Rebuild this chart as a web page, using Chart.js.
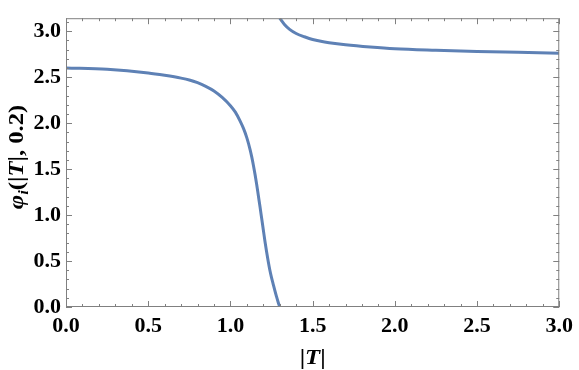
<!DOCTYPE html>
<html>
<head>
<meta charset="utf-8">
<script src="https://cdn.jsdelivr.net/npm/chart.js@4.4.0/dist/chart.umd.min.js"></script>
<style>
html, body { margin: 0; padding: 0; background: #fff; }
#wrap { width: 579px; height: 370px; }
</style>
</head>
<body>
<div id="wrap"><canvas id="phase-chart"></canvas></div>
<script>
// Branch before the phase jump
var lowT   = [0, 0.25, 0.5, 0.6, 0.7, 0.75, 0.8, 0.85, 0.9, 0.95, 1.0, 1.03, 1.06, 1.08, 1.1, 1.12, 1.13, 1.14, 1.15, 1.16, 1.17, 1.18, 1.19, 1.2, 1.21, 1.22, 1.23, 1.24, 1.25, 1.26, 1.27, 1.28, 1.29, 1.30];
var lowPhi = [2.60, 2.585, 2.545, 2.52, 2.49, 2.47, 2.44, 2.40, 2.35, 2.28, 2.19, 2.12, 2.02, 1.94, 1.84, 1.71, 1.63, 1.54, 1.44, 1.33, 1.21, 1.09, 0.965, 0.84, 0.715, 0.60, 0.495, 0.40, 0.32, 0.25, 0.18, 0.115, 0.055, 0.0];

// Branch after the jump (wrapped, starts at pi)
var highT   = [1.30, 1.33, 1.36, 1.40, 1.45, 1.5, 1.55, 1.6, 1.7, 1.85, 2.0, 2.25, 2.5, 2.75, 3.0];
var highPhi = [3.1416, 3.07, 3.02, 2.975, 2.94, 2.91, 2.89, 2.875, 2.852, 2.827, 2.808, 2.792, 2.78, 2.77, 2.76];

// Tick labels
var xTicks = [0, 0.5, 1.0, 1.5, 2.0, 2.5, 3.0];
var yTicks = [0, 0.5, 1.0, 1.5, 2.0, 2.5, 3.0];

var lineColor = '#5E81B5';
var frameColor = '#808080';
var serif = '"Liberation Serif", "Times New Roman", serif';

function toPoints(xs, ys) {
    return xs.map(function (x, i) { return { x: x, y: ys[i] }; });
}

// Mathematica style frame with inside ticks on all four sides
var framePlugin = {
    id: 'frame',
    afterDatasetsDraw: function (chart) {
        var ctx = chart.ctx, a = chart.chartArea;
        var xs = chart.scales.x, ys = chart.scales.y;
        ctx.save();
        ctx.strokeStyle = frameColor;
        ctx.lineWidth = 1;
        ctx.strokeRect(a.left + 0.5, a.top + 0.5, a.right - a.left - 1, a.bottom - a.top - 1);
        var i, v, p, len;
        ctx.beginPath();
        for (i = 0; i <= 30; i++) {
            v = i / 10;
            p = Math.round(xs.getPixelForValue(v)) + 0.5;
            len = (i % 5 === 0) ? 6 : 3;
            ctx.moveTo(p, a.bottom); ctx.lineTo(p, a.bottom - len);
            ctx.moveTo(p, a.top); ctx.lineTo(p, a.top + len);
        }
        for (i = 0; i <= 31; i++) {
            v = i / 10;
            p = Math.round(ys.getPixelForValue(v)) + 0.5;
            len = (i % 5 === 0) ? 6 : 3;
            ctx.moveTo(a.left, p); ctx.lineTo(a.left + len, p);
            ctx.moveTo(a.right, p); ctx.lineTo(a.right - len, p);
        }
        ctx.stroke();
        ctx.restore();
    }
};

// Axis titles with mixed italic / upright pieces
function drawPieces(ctx, pieces) {
    var w = 0;
    pieces.forEach(function (s) { ctx.font = s.f; s.w = ctx.measureText(s.t).width; w += s.w; });
    var x = -w / 2;
    pieces.forEach(function (s) {
        ctx.font = s.f;
        ctx.fillText(s.t, x, s.dy || 0);
        x += s.w;
    });
}

var titlePlugin = {
    id: 'titles',
    afterDraw: function (chart) {
        var ctx = chart.ctx, a = chart.chartArea;
        var bold = 'bold 22px ' + serif;
        var ital = 'italic bold 22px ' + serif;
        ctx.save();
        ctx.fillStyle = '#000';
        ctx.textBaseline = 'alphabetic';
        ctx.textAlign = 'left';

        // y title
        ctx.save();
        ctx.translate(23, 157);
        ctx.rotate(-Math.PI / 2);
        ctx.scale(1.12, 1);
        drawPieces(ctx, [
            { t: 'φ', f: ital },
            { t: 'i', f: 'italic bold 15px ' + serif, dy: 5 },
            { t: '(|', f: bold },
            { t: 'T', f: ital },
            { t: '|, 0.2)', f: bold }
        ]);
        ctx.restore();

        // x title
        ctx.save();
        ctx.translate((a.left + a.right) / 2, 364);
        ctx.scale(1.12, 1);
        drawPieces(ctx, [
            { t: '|', f: bold },
            { t: 'T', f: ital },
            { t: '|', f: bold }
        ]);
        ctx.restore();

        ctx.restore();
    }
};

var ctx = document.getElementById('phase-chart');

var chartData = {
    datasets: [{
        data: toPoints(lowT, lowPhi),
        borderColor: lineColor,
        borderWidth: 3,
        pointRadius: 0,
        fill: false,
        cubicInterpolationMode: 'monotone'
    }, {
        data: toPoints(highT, highPhi),
        borderColor: lineColor,
        borderWidth: 3,
        pointRadius: 0,
        fill: false,
        cubicInterpolationMode: 'monotone'
    }]
};

var chartOptions = {
    responsive: true,
    maintainAspectRatio: false,
    animation: false,
    layout: { padding: { top: 2, right: 19, left: 0, bottom: 0 } },
    plugins: {
        legend: { display: false },
        tooltip: { enabled: false }
    },
    scales: {
        x: {
            type: 'linear',
            min: 0,
            max: 3,
            grid: { display: false, drawTicks: false },
            border: { display: false },
            afterBuildTicks: function (scale) {
                scale.ticks = xTicks.map(function (v) { return { value: v }; });
            },
            afterFit: function (scale) { scale.height = 63; },
            ticks: {
                padding: 6,
                maxRotation: 0,
                color: '#000',
                font: { family: serif, size: 22, weight: 'bold' },
                callback: function (v) { return Number(v).toFixed(1); }
            }
        },
        y: {
            type: 'linear',
            min: 0,
            max: Math.PI,
            grid: { display: false, drawTicks: false },
            border: { display: false },
            afterBuildTicks: function (scale) {
                scale.ticks = yTicks.map(function (v) { return { value: v }; });
            },
            afterFit: function (scale) { scale.width = 66; },
            ticks: {
                padding: 5,
                color: '#000',
                font: { family: serif, size: 22, weight: 'bold' },
                callback: function (v) { return Number(v).toFixed(1); }
            }
        }
    }
};

var config = {
    type: 'line',
    data: chartData,
    options: chartOptions,
    plugins: [framePlugin, titlePlugin]
};

// Create the chart
var phaseChart = new Chart(ctx, config);
</script>
</body>
</html>
